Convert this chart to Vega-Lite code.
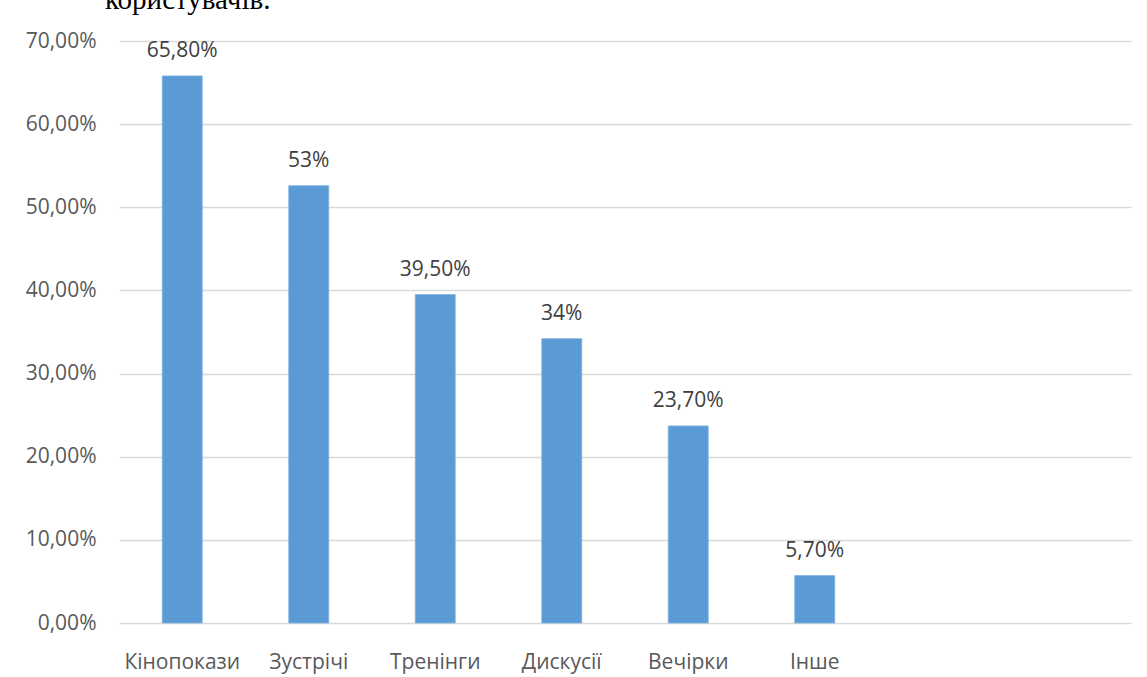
{
  "$schema": "https://vega.github.io/schema/vega-lite/v6.json",
  "width": 1012,
  "height": 582,
  "autosize": {"type": "none"},
  "padding": {"left": 119, "top": 41, "right": 16, "bottom": 54},
  "background": "white",
  "title": {
    "text": "користувачів.",
    "anchor": "start",
    "frame": "group",
    "orient": "top",
    "offset": -8,
    "baseline": "alphabetic",
    "dx": -14,
    "font": "Liberation Serif",
    "fontSize": 29,
    "fontWeight": "normal",
    "color": "#000000"
  },
  "data": {
    "values": [
      {"cat": "Кінопокази", "value": 65.8, "label": "65,80%"},
      {"cat": "Зустрічі", "value": 52.6, "label": "53%"},
      {"cat": "Тренінги", "value": 39.5, "label": "39,50%"},
      {"cat": "Дискусії", "value": 34.2, "label": "34%"},
      {"cat": "Вечірки", "value": 23.7, "label": "23,70%"},
      {"cat": "Інше", "value": 5.7, "label": "5,70%"}
    ]
  },
  "config": {
    "view": {"stroke": null},
    "font": "Open Sans"
  },
  "encoding": {
    "x": {
      "field": "cat",
      "type": "nominal",
      "sort": null,
      "scale": {
        "domain": ["Кінопокази", "Зустрічі", "Тренінги", "Дискусії", "Вечірки", "Інше", "_a", "_b"],
        "paddingInner": 0.684,
        "paddingOuter": 0.342
      },
      "axis": {
        "title": null,
        "domain": false,
        "ticks": false,
        "labelAngle": 0,
        "labelFont": "Open Sans",
        "labelFontSize": 21,
        "labelColor": "#595959",
        "labelPadding": 28,
        "labelExpr": "indexof(datum.label, '_') == 0 ? '' : datum.label"
      }
    },
    "y": {
      "field": "value",
      "type": "quantitative",
      "scale": {"domain": [0, 70]},
      "axis": {
        "title": null,
        "values": [0, 10, 20, 30, 40, 50, 60, 70],
        "domain": false,
        "ticks": false,
        "grid": true,
        "gridColor": "#d9d9d9",
        "gridWidth": 1.5,
        "labelFont": "Open Sans",
        "labelFontSize": 21,
        "labelColor": "#595959",
        "labelPadding": 23,
        "labelExpr": "replace(format(datum.value, '.2f'), '.', ',') + '%'"
      }
    }
  },
  "layer": [
    {
      "mark": {"type": "bar", "color": "#5b9bd5", "stroke": "#7fb1df", "strokeWidth": 0.8}
    },
    {
      "mark": {"type": "text", "baseline": "alphabetic", "dy": -19, "font": "Open Sans", "fontSize": 21, "color": "#404040"},
      "encoding": {"text": {"field": "label"}}
    }
  ]
}
